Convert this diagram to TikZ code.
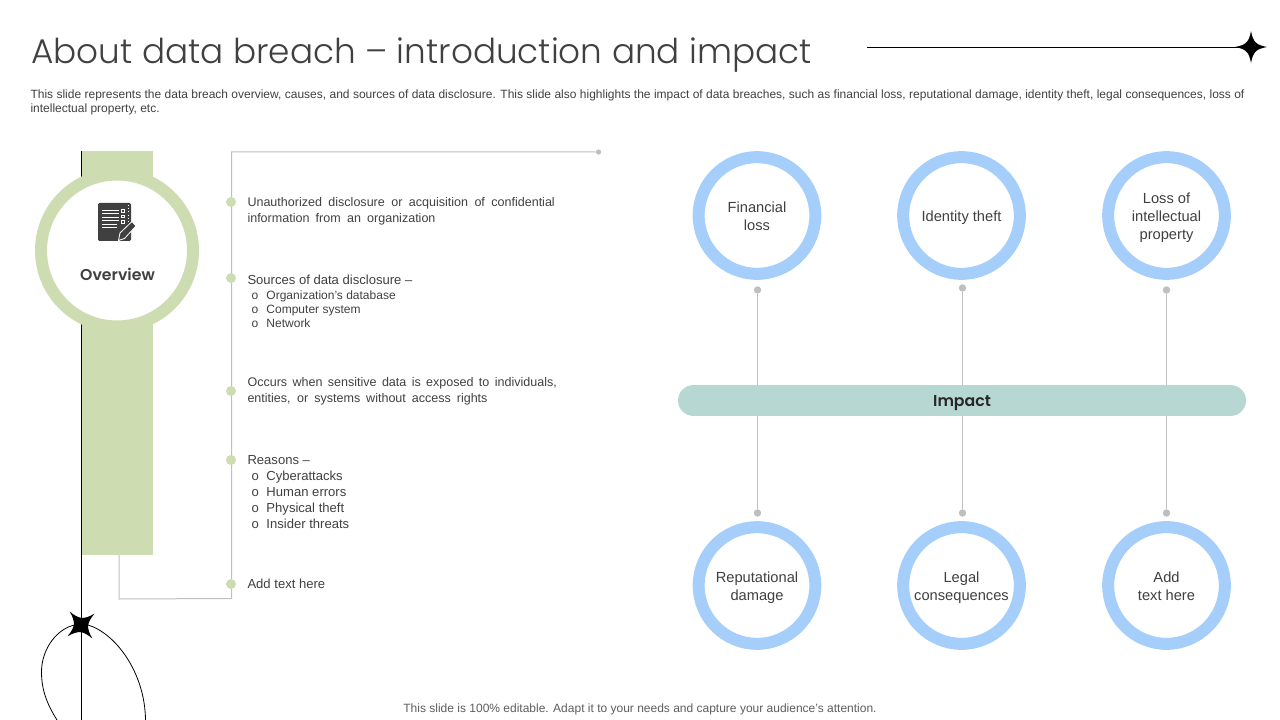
\documentclass[tikz,border=0pt]{standalone}
\usepackage{fontspec}
\setmainfont{Liberation Sans}
\newfontfamily\titlefont{Poppins Light}
\newfontfamily\headfont{Poppins SemiBold}
\definecolor{bandgreen}{RGB}{205,220,177}
\definecolor{ringblue}{RGB}{166,206,250}
\definecolor{barteal}{RGB}{183,215,211}
\definecolor{wiregray}{RGB}{191,191,191}
\definecolor{inkgray}{RGB}{64,64,64}
\newcommand{\ringtop}{\rule{0pt}{12.5pt}}
\tikzset{every picture/.style={line width=0.75pt}}
\tikzset{
	wire/.style={draw=wiregray,line width=0.75pt},
	greendot/.style={circle,fill=bandgreen,inner sep=0pt,minimum size=7.5pt},
	graydot/.style={circle,fill=wiregray,inner sep=0pt,minimum size=5.6pt},
	ringnode/.style={circle,draw=ringblue,fill=white,line width=9pt,minimum size=87.5pt,inner sep=0pt,align=center,text=inkgray,font=\fontsize{11}{13.5}\selectfont,execute at end node=\strut},
	bodytext/.style={anchor=west,inner sep=0pt,align=left,text=inkgray,font=\fontsize{9.8}{12}\selectfont,execute at end node=\strut},
	bodynarrow/.style={bodytext,font=\fontsize{9.4}{12}\selectfont},
	subtext/.style={anchor=west,inner sep=0pt,text=inkgray,font=\fontsize{9}{12}\selectfont,execute at begin node=\strut},
	subwide/.style={subtext,font=\fontsize{9.8}{12}\selectfont},
	sparkle/.pic={\fill[black] (16,0) .. controls (5,2) and (2,5) .. (0,16) .. controls (-2,5) and (-5,2) .. (-16,0) .. controls (-5,-2) and (-2,-5) .. (0,-16) .. controls (2,-5) and (5,-2) .. (16,0) -- cycle;}
}
\begin{document}
\begin{tikzpicture}[x=0.75pt,y=0.75pt,yscale=-1,xscale=1]
	\useasboundingbox (0,0) rectangle (1280,720);

	%Title and intro
	\node[anchor=base west,inner sep=0pt,text=inkgray,font=\titlefont\fontsize{25.7}{30}\selectfont] (title) at (31,64) {About data breach – introduction and impact};
	\node[anchor=north west,inner sep=0pt,align=left,text=inkgray,font=\fontsize{9}{10.5}\selectfont] (intro) at (30,89) {\makebox[910.5pt][s]{This slide represents the data breach overview, causes, and sources of data disclosure. This slide also highlights the impact of data breaches, such as financial loss, reputational damage, identity theft, legal consequences, loss of}\\intellectual property, etc.};
	\pic at (1251,47) {sparkle};
	\coordinate (ruleend) at (1240,47);
	\coordinate (rulestart) at (867,47);
	\draw[line width=0.6pt] (rulestart) -- (ruleend);

	%Left band and overview ring
	\fill[bandgreen] (81.5,151) rectangle (153,555);
	\coordinate (linetop) at (81.5,151);
	\coordinate (linebottom) at (81.5,720);
	\draw[line width=0.9pt] (linetop) -- (linebottom);
	\node[circle,draw=bandgreen,fill=white,line width=9pt,minimum size=114pt,inner sep=0pt] (overview) at (117,250.5) {};
	\node[inner sep=0pt,text=inkgray,font=\headfont\fontsize{11.8}{14}\selectfont] (overviewlabel) at (117.5,274) {Overview};

	%Icon
	\fill[inkgray,rounded corners=1pt] (98,203) rectangle (131,241);
	\draw[white,line width=0.6pt] (102,210) -- (119,210);
	\draw[white,line width=0.6pt] (102,213) -- (119,213);
	\draw[white,line width=0.6pt] (102,217) -- (119,217);
	\draw[white,line width=0.6pt] (102,220) -- (119,220);
	\draw[white,line width=0.6pt] (102,224) -- (117,224);
	\draw[white,line width=0.6pt] (102,227) -- (117,227);
	\draw[white,line width=0.4pt] (121,209.5) rectangle (124,212);
	\draw[white,line width=0.4pt] (121,215) rectangle (124,217.5);
	\draw[white,line width=0.4pt] (121,220.5) rectangle (124,223);
	\draw[white,line width=0.4pt,dotted] (128,205) -- (128,222);
	\draw[white,fill=inkgray,line width=0.6pt] (118.5,240.5) -- (120,233) -- (132,221.5) -- (136,226) -- (124.5,238.5) -- cycle;

	%Bottom left ornament
	\draw[line width=0.6pt] (57,720) .. controls (47,704) and (41.5,690) .. (41.5,672) .. controls (41.5,648) and (58,628) .. (75,625);
	\draw[line width=0.6pt] (88,625) .. controls (115,633) and (145,672) .. (145.5,720);
	\pic[rotate=40,scale=1.1] at (81,625) {sparkle};

	%Timeline wire
	\node[graydot,minimum size=4pt] (wirestart) at (598.5,152) {};
	\coordinate (wiretop) at (231.5,152);
	\coordinate (wirecorner) at (231.5,598.5);
	\coordinate (wirelow) at (119,599);
	\coordinate (wireband) at (119,555);
	\draw[wire] (wirestart) -- (wiretop) -- (wirecorner) -- (wirelow) -- (wireband);
	\node[greendot] (dotone) at (231,202) {};
	\node[greendot] (dottwo) at (231,278) {};
	\node[greendot] (dotthree) at (231,391) {};
	\node[greendot] (dotfour) at (231,460) {};
	\node[greendot] (dotfive) at (231,584) {};

	%Timeline texts
	\node[bodynarrow] (itemone) at (247,211) {\strut\makebox[230.5pt][s]{Unauthorized disclosure or acquisition of confidential}\\\makebox[141pt][s]{information from an organization}};
	\node[bodytext] (itemtwo) at (247,281) {\strut Sources of data disclosure --};
	\node[subtext] (subtwoa) at (247,296) {\makebox[14.25pt][l]{\hspace{3pt}o}Organization's database};
	\node[subtext] (subtwob) at (247,310) {\makebox[14.25pt][l]{\hspace{3pt}o}Computer system};
	\node[subtext] (subtwoc) at (247,324) {\makebox[14.25pt][l]{\hspace{3pt}o}Network};
	\node[bodynarrow] (itemthree) at (247,391) {\strut\makebox[232pt][s]{Occurs when sensitive data is exposed to individuals,}\\\makebox[180pt][s]{entities, or systems without access rights}};
	\node[bodytext] (itemfour) at (247,461) {\strut Reasons --};
	\node[subwide] (subfoura) at (247,477) {\makebox[14.25pt][l]{\hspace{3pt}o}Cyberattacks};
	\node[subwide] (subfourb) at (247,493) {\makebox[14.25pt][l]{\hspace{3pt}o}Human errors};
	\node[subwide] (subfourc) at (247,509) {\makebox[14.25pt][l]{\hspace{3pt}o}Physical theft};
	\node[subwide] (subfourd) at (247,525) {\makebox[14.25pt][l]{\hspace{3pt}o}Insider threats};
	\node[bodytext] (itemfive) at (247,585) {\strut Add text here};

	%Impact rings
	\node[ringnode] (financial) at (757,215.5) {\ringtop Financial\\loss};
	\node[ringnode] (identity) at (961.5,215.5) {\ringtop Identity theft};
	\node[ringnode] (property) at (1166.5,215.5) {\ringtop Loss of\\intellectual\\property};
	\node[ringnode] (reputation) at (757,585.5) {\ringtop Reputational\\damage};
	\node[ringnode] (legal) at (961.5,585.5) {\ringtop Legal\\consequences};
	\node[ringnode] (addtext) at (1166.5,585.5) {\ringtop Add\\text here};

	%Dots and wires behind the bar
	\node[graydot] (topa) at (757.5,290) {};
	\node[graydot] (topb) at (962.5,288) {};
	\node[graydot] (topc) at (1166.5,290) {};
	\node[graydot] (lowa) at (757.5,513) {};
	\node[graydot] (lowb) at (962.5,513) {};
	\node[graydot] (lowc) at (1166.5,513) {};
	\draw[wire] (topa) -- (lowa);
	\draw[wire] (topb) -- (lowb);
	\draw[wire] (topc) -- (lowc);

	%Impact bar
	\node[rounded corners=11.6pt,fill=barteal,minimum width=426pt,minimum height=23.2pt,inner sep=0pt,text=black!85,text height=8.4pt,text depth=0pt,font=\headfont\fontsize{11.8}{14}\selectfont] (impact) at (962,400.5) {Impact};

	%Footer
	\node[inner sep=0pt,text=inkgray!85,font=\fontsize{9}{11}\selectfont] (footer) at (640,709) {This slide is 100\% editable. Adapt it to your needs and capture your audience's attention.};
\end{tikzpicture}
\end{document}
